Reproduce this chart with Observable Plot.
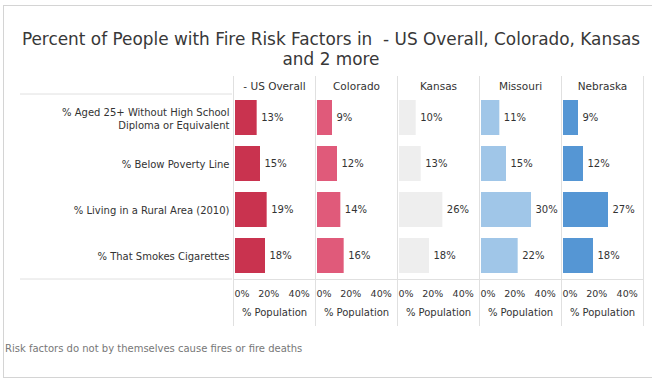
<!DOCTYPE html>
<html><head><meta charset="utf-8">
<script src="https://cdn.jsdelivr.net/npm/d3@7"></script>
<script src="https://cdn.jsdelivr.net/npm/@observablehq/plot@0.6"></script>
<style>
body{margin:0;background:#fff;font-family:"DejaVu Sans",Verdana,sans-serif;}
#wrap{position:relative;width:652px;height:383px;overflow:hidden;}
#frame{position:absolute;left:3px;top:5px;width:700px;height:373px;border:1px solid #d4d4d4;box-sizing:border-box;pointer-events:none}
#title{position:absolute;top:29px;left:0;width:662px;text-align:center;font-size:16.9px;color:#383838;line-height:20px}
#chart{position:absolute;top:68px;left:0}
#caption{position:absolute;top:343px;left:5px;font-size:10px;color:#777}
</style></head>
<body>
<div id="wrap">
  <div id="frame"></div>
  <div id="title">Percent of People with Fire Risk Factors in&nbsp; - US Overall, Colorado, Kansas<br>and 2 more</div>
  <div id="chart"></div>
  <div id="caption">Risk factors do not by themselves cause fires or fire deaths</div>
</div>
<script>
const states = ["- US Overall", "Colorado", "Kansas", "Missouri", "Nebraska"];
const factors = [
  "% Aged 25+ Without High School\nDiploma or Equivalent",
  "% Below Poverty Line",
  "% Living in a Rural Area (2010)",
  "% That Smokes Cigarettes"
];
const usOverall = [13, 15, 19, 18];
const colorado = [9, 12, 14, 16];
const kansas = [10, 13, 26, 18];
const missouri = [11, 15, 30, 22];
const nebraska = [9, 12, 27, 18];
const stateColors = ["#c9334f", "#e05a7a", "#eeeeee", "#a0c6e8", "#5596d4"];
const xTicks = [0, 20, 40];
const axisTitle = "% Population";

const series = [usOverall, colorado, kansas, missouri, nebraska];
const data = [];
states.forEach((s, i) => factors.forEach((f, j) => data.push({state: s, factor: f, value: series[i][j]})));

const W = 652, H = 262, mL = 232, mR = 8, mT = 26, mB = 51;
const lineColor = "#e0e0e0";
const fmt = d => d + "%";

const chart = Plot.plot({
  width: W, height: H,
  marginLeft: mL, marginRight: mR, marginTop: mT, marginBottom: mB,
  style: {fontFamily: "DejaVu Sans, Verdana, sans-serif", fontSize: "9px", color: "#333", background: "transparent"},
  fx: {domain: states, padding: 0, label: null},
  x: {domain: [0, 48], insetLeft: 2},
  y: {domain: factors, paddingInner: 0.25, paddingOuter: 0.125, label: null},
  color: {domain: states, range: stateColors},
  marks: [
    Plot.frame({anchor: "left", stroke: lineColor, insetTop: -18, insetBottom: -46}),
    Plot.frame({anchor: "right", stroke: lineColor, insetTop: -18, insetBottom: -46}),
    Plot.frame({anchor: "bottom", stroke: lineColor}),
    Plot.barX(data, {fx: "state", y: "factor", x: "value", fill: "state"}),
    Plot.text(data, {fx: "state", y: "factor", x: "value", text: d => fmt(d.value), textAnchor: "start", dx: 4, fontSize: 10, fill: "#333"}),
    Plot.axisFx({anchor: "top", tickSize: 0, tickPadding: 5, fontSize: 10.5, label: null}),
    Plot.axisY({anchor: "left", tickSize: 0, tickPadding: 4, fontSize: 10, lineHeight: 1.35, label: null}),
    Plot.axisX({ticks: xTicks.slice(0, 1), tickFormat: fmt, textAnchor: "start", dx: -1, tickSize: 0, tickPadding: 11, fontSize: 9.5, label: null}),
    Plot.axisX({ticks: xTicks.slice(1, 2), tickFormat: fmt, tickSize: 0, tickPadding: 11, fontSize: 9.5, label: null}),
    Plot.axisX({ticks: xTicks.slice(2), tickFormat: fmt, dx: -3, tickSize: 0, tickPadding: 11, fontSize: 9.5, label: null}),
    Plot.text(states, {fx: d => d, text: () => axisTitle, frameAnchor: "bottom", dy: 36, fontSize: 10, fill: "#333"})
  ]
});
document.getElementById("chart").appendChild(chart);

// separator lines in the row-label area
const svg = d3.select(chart);
svg.append("line").attr("x1", 20).attr("x2", mL).attr("y1", mT).attr("y2", mT).attr("stroke", lineColor);
svg.append("line").attr("x1", 20).attr("x2", mL).attr("y1", H - mB).attr("y2", H - mB).attr("stroke", lineColor);
</script>
</body></html>
